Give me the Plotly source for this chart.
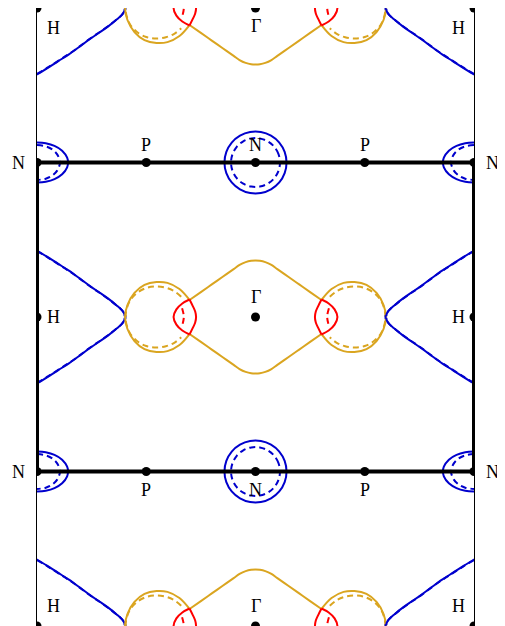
import numpy as np
import plotly.graph_objects as go

BLUE = "#0000cd"
GOLD = "#daa520"
RED = "#ff0000"
DASH = "6px,4px"

# symmetry points of the section (units of 2pi/a)
pt_label = ["H", "Γ", "H",
            "N", "P", "N", "P", "N",
            "H", "Γ", "H",
            "N", "P", "N", "P", "N",
            "H", "Γ", "H"]
pt_x = [-1, 0, 1,
        -1, -0.5, 0, 0.5, 1,
        -1, 0, 1,
        -1, -0.5, 0, 0.5, 1,
        -1, 0, 1]
pt_y = [1.414, 1.414, 1.414,
        0.707, 0.707, 0.707, 0.707, 0.707,
        0, 0, 0,
        -0.707, -0.707, -0.707, -0.707, -0.707,
        -1.414, -1.414, -1.414]
# label offsets in pixels (dx, dy)
pt_shift = [(16, -20), (0, -18), (-16, -20),
            (-19, 0), (0, 18), (0, 18), (0, 18), (18, 0),
            (16, 0), (0, 20), (-16, 0),
            (-19, 0), (0, -18), (0, -18), (0, -18), (18, 0),
            (16, 20), (0, 20), (-16, 20)]

gamma_y = [1.414, 0.0, -1.414]
n_row_y = [0.707, -0.707]

# Gamma-centred gold sheet, upper-left quarter
lens_x = [-0.302, -0.25, -0.2, -0.15, -0.1, -0.073, -0.045, -0.02, 0.0]
lens_y = [0.078, 0.114, 0.149, 0.184, 0.219, 0.238, 0.251, 0.257, 0.258]

# gold pocket (solid), upper half, from crossing point round to the left
pock_x = [-0.302, -0.348, -0.403, -0.453, -0.508, -0.554, -0.586, -0.597]
pock_y = [0.078, 0.128, 0.156, 0.160, 0.147, 0.110, 0.055, 0.0]

# gold pocket (dashed), upper half
pockd_x = [-0.340, -0.372, -0.410, -0.455, -0.500, -0.545, -0.578, -0.595]
pockd_y = [0.093, 0.118, 0.134, 0.140, 0.133, 0.108, 0.068, 0.0]

# red lens, upper halves of its two arcs
red_in_x = [-0.302, -0.335, -0.362, -0.375]
red_in_y = [0.080, 0.062, 0.035, 0.0]
red_out_x = [-0.302, -0.287, -0.276, -0.272]
red_out_y = [0.080, 0.050, 0.025, 0.0]
redd_x = [-0.336, -0.328, -0.336]
redd_y = [0.040, 0.0, -0.040]

# blue H-centred sheet, upper branch measured from H towards Gamma
hb_x = [0.0, 0.05, 0.10, 0.15, 0.20, 0.25, 0.29, 0.33, 0.37, 0.39, 0.403, 0.405]
hb_y = [0.302, 0.272, 0.240, 0.208, 0.172, 0.135, 0.108, 0.080, 0.048, 0.030, 0.012, 0.0]

# blue N pockets (centre of the section)
nc_r = 0.142
ncd_r = 0.112
# blue N pockets on the zone edge, upper half from the edge inward
ne_x = [0.0, 0.04, 0.08, 0.115, 0.138, 0.142]
ne_y = [0.092, 0.088, 0.076, 0.054, 0.022, 0.0]
ned_x = [0.0, 0.04, 0.07, 0.093, 0.105]
ned_y = [0.080, 0.074, 0.060, 0.036, 0.0]

fig = go.Figure()


def add(x, y, color, dash="solid", width=2):
    fig.add_trace(go.Scatter(x=list(x), y=list(y), mode="lines",
                             line=dict(color=color, width=width, dash=dash, shape="spline"),
                             hoverinfo="skip", showlegend=False))


def closed_half(x, y):
    # upper half ending on y=0 -> full arc down to the mirrored start
    x = np.array(x); y = np.array(y)
    return np.concatenate([x, x[::-1][1:]]), np.concatenate([y, -y[::-1][1:]])


pock = closed_half(pock_x, pock_y)
pockd = closed_half(pockd_x, pockd_y)
red_in = closed_half(red_in_x, red_in_y)
red_out = closed_half(red_out_x, red_out_y)
ne = closed_half(ne_x, ne_y)
ned = closed_half(ned_x, ned_y)
lx = np.array(lens_x); ly = np.array(lens_y)
lens_full_x = np.concatenate([lx, -lx[::-1][1:]])
lens_full_y = np.concatenate([ly, ly[::-1][1:]])

ang = np.radians(np.arange(0, 361, 20))

for gy in gamma_y:
    add(lens_full_x, gy + lens_full_y, GOLD)
    add(lens_full_x, gy - lens_full_y, GOLD)
    for s in (-1, 1):
        add(s * pockd[0], gy + pockd[1], GOLD, DASH)
        add(s * pock[0], gy + pock[1], GOLD)
        add(s * np.array(redd_x), gy + np.array(redd_y), RED, DASH)
        add(s * red_in[0], gy + red_in[1], RED)
        add(s * red_out[0], gy + red_out[1], RED)
        hx = np.array(hb_x); hy = np.array(hb_y)
        add(s * (1 - hx), gy + hy, BLUE, DASH)
        add(s * (1 - hx), gy - hy, BLUE, DASH)
        add(s * (1 - hx) + 0.004 * s, gy + hy + 0.004, BLUE)
        add(s * (1 - hx) + 0.004 * s, gy - hy - 0.004, BLUE)

for ny in n_row_y:
    add(nc_r * np.cos(ang), ny + nc_r * np.sin(ang), BLUE)
    add(ncd_r * np.cos(ang), ny + ncd_r * np.sin(ang), BLUE, DASH)
    for s in (-1, 1):
        add(s * (1 - ne[0]), ny + ne[1], BLUE)
        add(s * (1 - ned[0]), ny + ned[1], BLUE, DASH)

# zone boundary in this section
fig.add_trace(go.Scatter(x=[-1, 1, 1, -1, -1], y=[0.707, 0.707, -0.707, -0.707, 0.707],
                         mode="lines", line=dict(color="black", width=4),
                         hoverinfo="skip", showlegend=False))

fig.add_trace(go.Scatter(x=pt_x, y=pt_y, mode="markers",
                         marker=dict(color="black", size=9),
                         hoverinfo="skip", showlegend=False))

for lab, x, y, (dx, dy) in zip(pt_label, pt_x, pt_y, pt_shift):
    fig.add_annotation(x=x, y=y, text=lab, showarrow=False, xshift=dx, yshift=dy,
                       font=dict(family="Liberation Serif, DejaVu Serif, serif", size=18, color="black"))

fig.update_xaxes(range=[-1, 1], showgrid=False, zeroline=False, showticklabels=False,
                 ticks="", showline=True, mirror=True, linecolor="black", linewidth=1.3)
fig.update_yaxes(range=[-1.414, 1.414], showgrid=False, zeroline=False, showticklabels=False,
                 ticks="", showline=True, mirror=True, linecolor="black", linewidth=1.3)
fig.update_layout(width=505, height=626, margin=dict(l=29, r=39, t=0, b=8),
                  plot_bgcolor="white", paper_bgcolor="white")

fig.write_html("out.html")
